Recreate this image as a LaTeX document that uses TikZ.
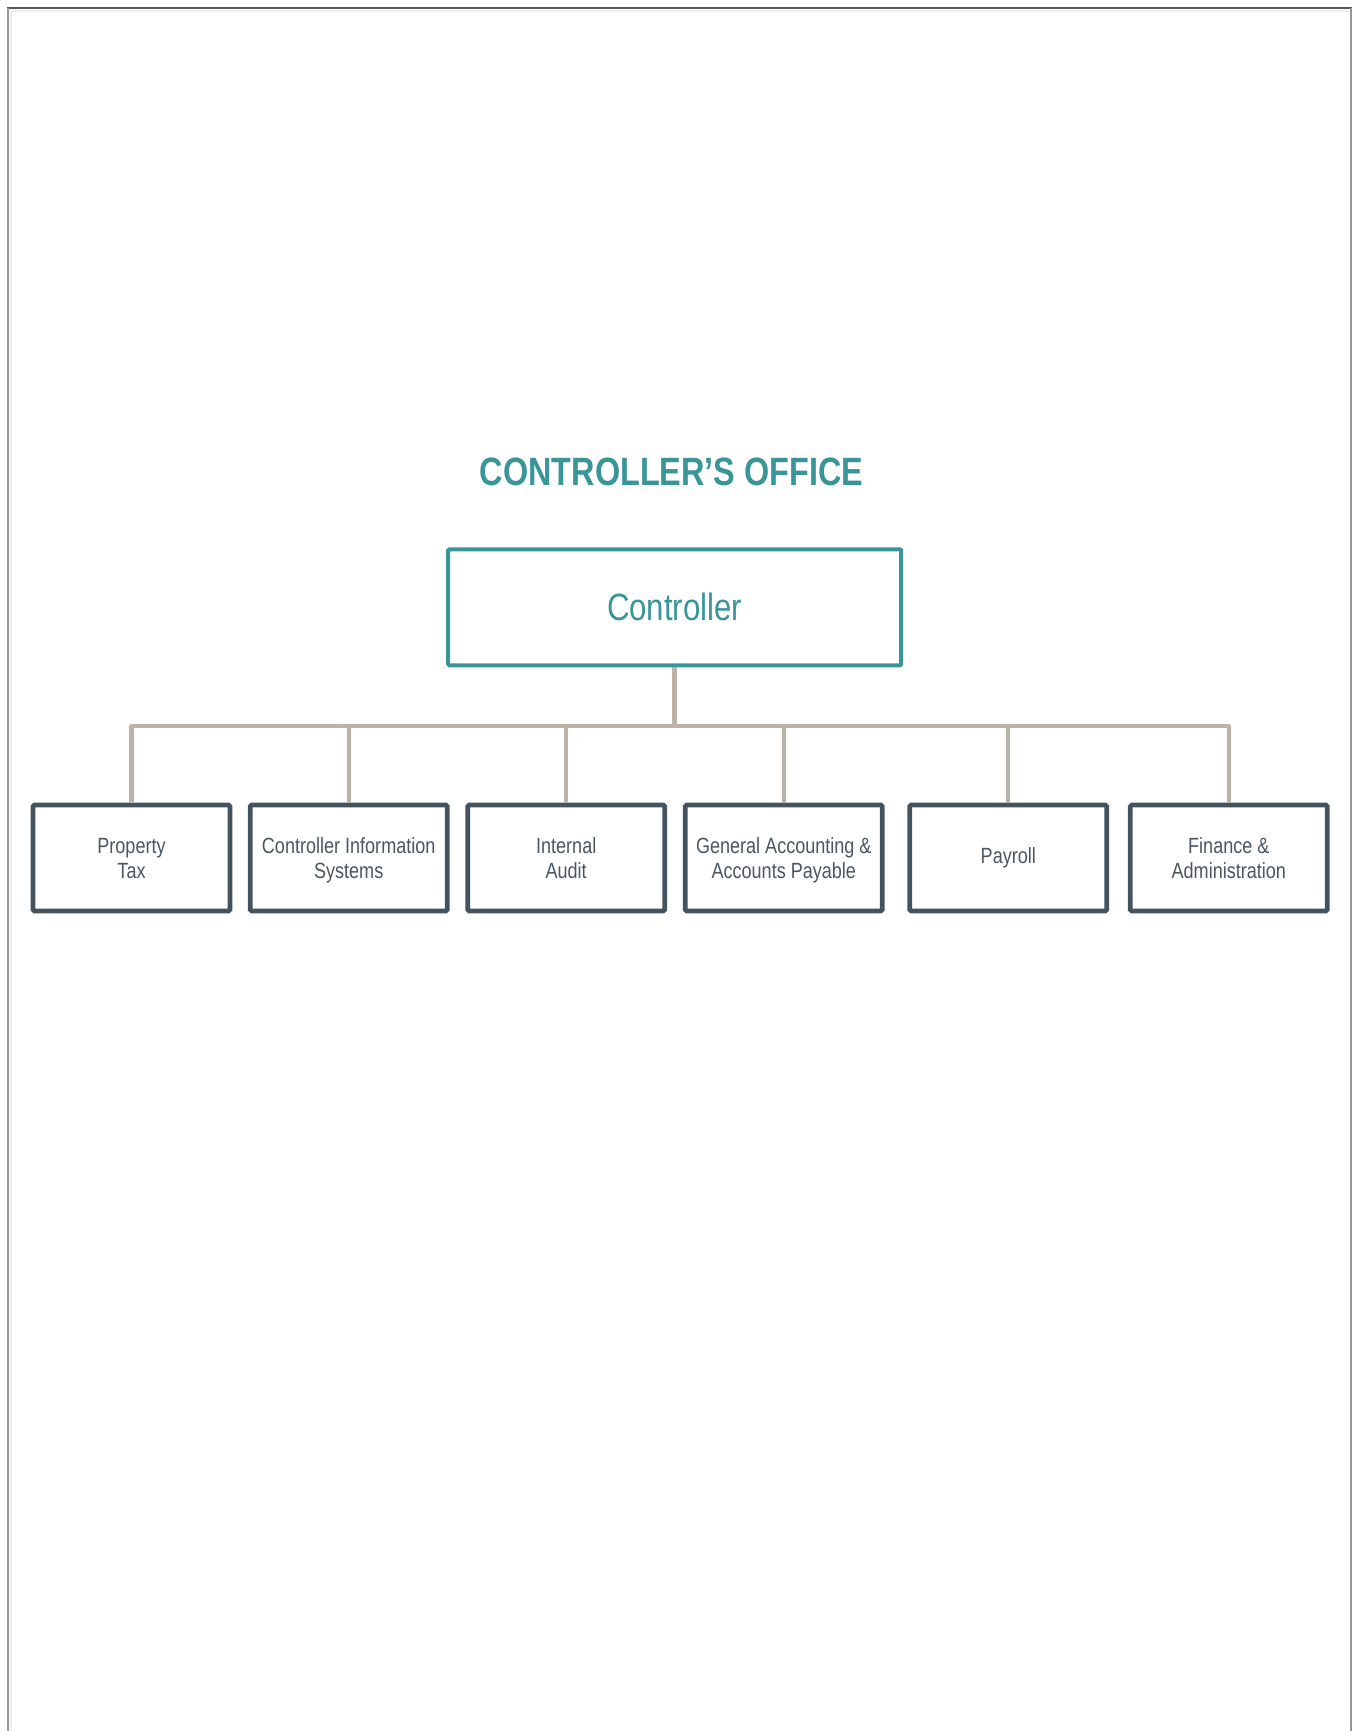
\documentclass[tikz,border=0pt]{standalone}
\usepackage{fontspec}
\setmainfont{Liberation Sans}
\newfontfamily\narrowsans{Liberation Sans}[FakeStretch=0.82]
\definecolor{teal}{RGB}{58,149,153}
\definecolor{slate}{RGB}{69,83,95}
\definecolor{slatetext}{RGB}{74,86,96}
\definecolor{taupe}{RGB}{188,178,168}
\definecolor{framedark}{RGB}{90,90,90}
\definecolor{framemid}{RGB}{150,150,150}
\definecolor{framelight}{RGB}{236,236,236}
% uniform line strut for two-line unit labels (height 20.3pt, depth 4.7pt)
\newcommand\unitstrut{\rule[-4.7pt]{0pt}{25pt}}
\newcommand\twolines[2]{\unitstrut#1\\\unitstrut#2}
\begin{document}
\begin{tikzpicture}[x=1pt,y=-1pt,
  titletext/.style={text=teal,font=\narrowsans\bfseries\fontsize{39.5}{40}\selectfont,inner sep=0pt},
  headbox/.style={draw=teal,line width=4pt,rounded corners=1.2pt,minimum width=453pt,minimum height=116pt,
    text=teal,font=\narrowsans\fontsize{38}{40}\selectfont,inner sep=0pt},
  unitbox/.style={draw=slate,line width=4.7pt,rounded corners=1.5pt,minimum width=197pt,minimum height=106pt,
    text=slatetext,align=center,font=\narrowsans\fontsize{22}{25}\selectfont,inner sep=0pt},
  conn/.style={draw=taupe,line width=4.2pt,line join=round},
  trunk/.style={draw=taupe,line width=5pt}]
\useasboundingbox (0,0) rectangle (1354,1731);

% page frame
\draw[framelight,line width=1.5pt] (11,11) -- (1349,11);
\draw[framelight,line width=1.5pt] (11,11) -- (11,1731);
\draw[framedark,line width=2pt] (7,8) -- (1352,8);
\draw[framemid,line width=1.5pt] (8,8) -- (8,1731);
\draw[framemid,line width=1.5pt] (1351,8) -- (1351,1731);

% title
\node[titletext,anchor=base] (title) at (671.5,485) {CONTROLLER’S OFFICE};

% head of the office
\node[headbox] (ctrl) at (674.7,607.3) {Controller};

% units
\node[unitbox] (b1) at (131.5,858) {\twolines{Property}{Tax}};
\node[unitbox] (b2) at (348.7,858) {\twolines{Controller Information}{Systems}};
\node[unitbox] (b3) at (566.2,858) {\twolines{Internal}{Audit}};
\node[unitbox] (b4) at (783.8,858) {\twolines{General Accounting \&}{Accounts Payable}};
\node[unitbox] (b5) at (1008.3,858) {Payroll};
\node[unitbox] (b6) at (1228.8,858) {\twolines{Finance \&}{Administration}};

% connectors
\coordinate (bus) at (0,726.3);
\draw[conn] (b1.north) -- (b1.north |- bus) -- (b6.north |- bus) -- (b6.north);
\foreach \b in {b2,b3,b4,b5}
  \draw[conn] (\b.north) -- (\b.north |- bus);
\draw[trunk] (ctrl.south) -- (ctrl.south |- bus);
\end{tikzpicture}
\end{document}
